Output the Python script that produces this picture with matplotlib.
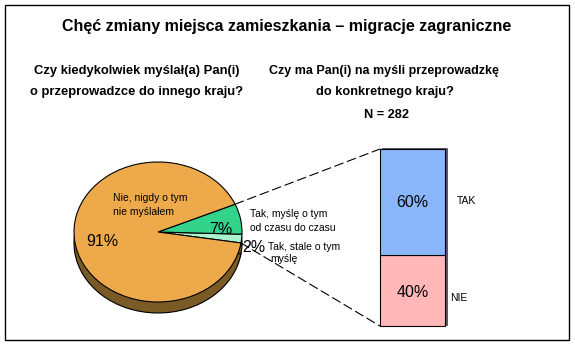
import numpy as np
import matplotlib.pyplot as plt
from matplotlib.patches import Rectangle, ConnectionPatch

plt.rcParams['font.family'] = ['Liberation Sans', 'DejaVu Sans']

# pie: answers to "have you ever thought about moving abroad"
pie_labels = ['Tak, stale o tym\nmyślę', 'Tak, myślę o tym\nod czasu do czasu', 'Nie, nigdy o tym\nnie myślałem']
pie_values = [2, 7, 91]
pie_colors = ['#aaf5cb', '#33d38b', '#eeaa4a']

# bar: "do you have a specific country in mind"
bar_labels = ['NIE', 'TAK']
bar_values = [40, 60]
bar_colors = ['#ffb7b7', '#8ab6fc']

W, H = 575, 355
fig = plt.figure(figsize=(W / 100, H / 100), dpi=100)

# pie axes, squashed to an ellipse
rx, ry = 84, 70
cx, cy = 158, 232
pw, ph = 2.5 * rx, 2.5 * ry
pax = fig.add_axes([(cx - pw / 2) / W, (H - cy - ph / 2) / H, pw / W, ph / H])
depth = 11 / ry
steps = 12
for i in range(steps, 0, -1):
    off = depth * i / steps
    pax.pie(pie_values, colors=['#7a5b25'] * 3, startangle=-9, radius=1,
            center=(0, -off), wedgeprops=dict(linewidth=0))
pax.pie(pie_values, colors=['#7a5b25'] * 3, startangle=-9, radius=1,
        center=(0, -depth), wedgeprops=dict(linewidth=0.8, edgecolor='black'))
wedges, _ = pax.pie(pie_values, colors=pie_colors, startangle=-9, radius=1,
                    wedgeprops=dict(linewidth=0.8, edgecolor='black'))
pax.set_aspect('auto')
pax.set_xlim(-1.25, 1.25)
pax.set_ylim(-1.25, 1.25)
pax.axis('off')

# stacked bar axes
bx0, by0, bw, bh = 380, 149, 70, 177
bax = fig.add_axes([bx0 / W, (H - by0 - bh) / H, bw / W, bh / H])
bar_w = 65 / 70
bax.bar(0.035, sum(bar_values), width=bar_w, bottom=0.7, align='edge',
        color='#55556a', edgecolor='#3a3a44', lw=0.5, clip_on=False)
bottom = 0
for lab, v, c in zip(bar_labels, bar_values, bar_colors):
    bax.bar(0, v, width=bar_w, bottom=bottom, align='edge', color=c,
            edgecolor='black', lw=0.8, clip_on=False)
    bax.text(bar_w / 2, bottom + v / 2 + (0 if v == 60 else -1), f'{v}%',
             ha='center', va='center', fontsize=11.5)
    bottom += v
bax.set_xlim(0, 1)
bax.set_ylim(0, 100)
bax.axis('off')

# dashed connectors from the "Tak" wedges to the bar
t_hi = np.deg2rad(wedges[1].theta2)
t_lo = np.deg2rad(wedges[0].theta1)
for t, yb in ((t_hi, 100), (t_lo, 0)):
    con = ConnectionPatch(xyA=(np.cos(t), np.sin(t)), coordsA=pax.transData,
                          xyB=(0, yb), coordsB=bax.transData,
                          linestyle=(0, (8, 4)), lw=0.8, color='black')
    fig.add_artist(con)

# overlay pixel axes for frame and texts (on top)
bg = fig.add_axes([0, 0, 1, 1])
bg.set_xlim(0, W)
bg.set_ylim(H, 0)
bg.axis('off')
bg.patch.set_visible(False)
bg.add_patch(Rectangle((5, 5), 564, 335, fill=False, edgecolor='black', lw=1))

bg.text(287, 27, 'Chęć zmiany miejsca zamieszkania – migracje zagraniczne',
        ha='center', va='center', fontsize=11.5, fontweight='bold')
bg.text(137, 71, 'Czy kiedykolwiek myślał(a) Pan(i)', ha='center', va='center',
        fontsize=9.4, fontweight='bold')
bg.text(137, 92, 'o przeprowadzce do innego kraju?', ha='center', va='center',
        fontsize=9.4, fontweight='bold')
bg.text(384, 71, 'Czy ma Pan(i) na myśli przeprowadzkę', ha='center', va='center',
        fontsize=9, fontweight='bold')
bg.text(385, 92, 'do konkretnego kraju?', ha='center', va='center',
        fontsize=9.2, fontweight='bold')
bg.text(386, 115, 'N = 282', ha='center', va='center', fontsize=9.2, fontweight='bold')

# pie texts
bg.text(113, 205, pie_labels[2], ha='left', va='center', fontsize=7.5, linespacing=1.45)
bg.text(102, 241, f'{pie_values[2]}%', ha='center', va='center', fontsize=11.5)
bg.text(221, 229, f'{pie_values[1]}%', ha='center', va='center', fontsize=11.5)
bg.text(250, 221, pie_labels[1], ha='left', va='center', fontsize=7.5, linespacing=1.45)
bg.text(254, 247, f'{pie_values[0]}%', ha='center', va='center', fontsize=11.5)
bg.text(268, 247, pie_labels[0].split('\n')[0], ha='left', va='center', fontsize=7.5)
bg.text(270, 259, pie_labels[0].split('\n')[1], ha='left', va='center', fontsize=7.5)

# bar side labels
bg.text(457, 201, bar_labels[1], ha='left', va='center', fontsize=7.5)
bg.text(450, 298, bar_labels[0], ha='left', va='center', fontsize=7.5)

fig.savefig('out.png', dpi=100)
